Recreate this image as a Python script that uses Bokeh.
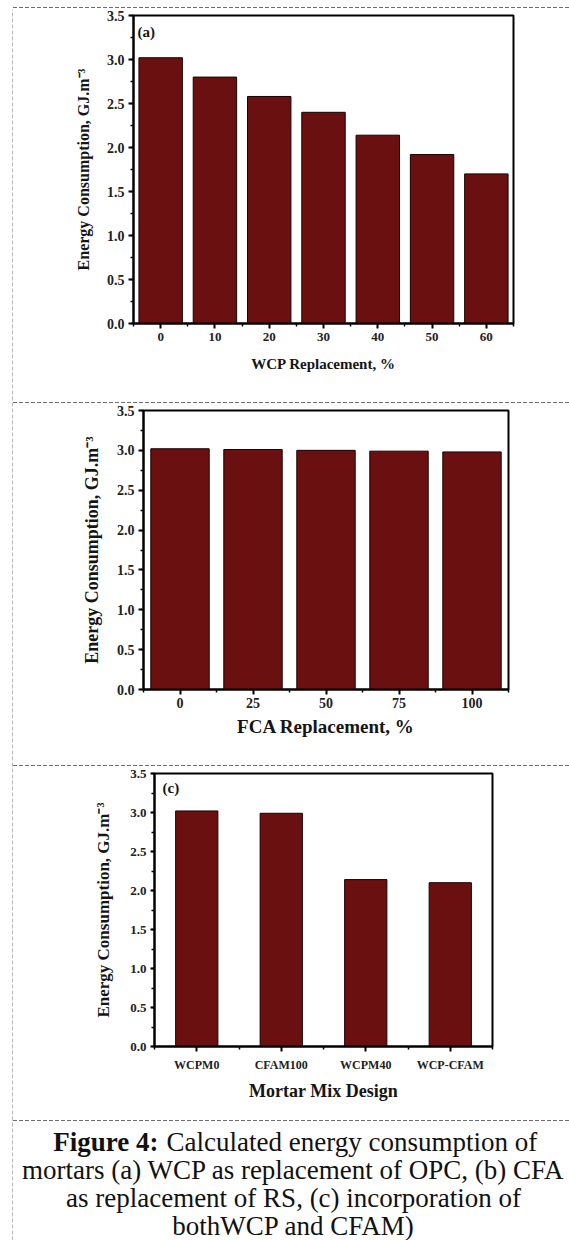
from bokeh.plotting import figure
from bokeh.layouts import row, column
from bokeh.models import (Range1d, FixedTicker, SingleIntervalTicker,
                          PrintfTickFormatter, Label, Spacer)
from bokeh.core.properties import value
from bokeh.embed import file_html
from bokeh.resources import INLINE

# ---------------- data ----------------
wcp_labels = ["0", "10", "20", "30", "40", "50", "60"]
wcp_energy = [3.02, 2.80, 2.58, 2.40, 2.14, 1.92, 1.70]

fca_labels = ["0", "25", "50", "75", "100"]
fca_energy = [3.02, 3.01, 3.00, 2.99, 2.98]

mix_labels = ["WCPM0", "CFAM100", "WCPM40", "WCP-CFAM"]
mix_energy = [3.02, 2.99, 2.14, 2.10]

y_label = "Energy Consumption, GJ.m\u207b\u00b3"
x_titles = ["WCP Replacement, %", "FCA Replacement, %", "Mortar Mix Design"]
panel_tags = ["(a)", "", "(c)"]

caption_bold = "Figure 4:"
caption_first = "Calculated energy consumption of"
caption_rest = ["mortars (a) WCP as replacement of OPC, (b) CFA",
                "as replacement of RS, (c) incorporation of",
                "bothWCP and CFAM)"]

# ---------------- style ----------------
SERIF = "Liberation Serif"
BAR = "#6b1010"
DASH = "#6e6e6e"
W = 556


def base(width, height, xr, yr):
    f = figure(width=width, height=height, output_backend="svg",
               toolbar_location=None, x_range=xr, y_range=yr,
               x_axis_type=None, y_axis_type=None, min_border=0,
               outline_line_color=None)
    f.frame_align = False
    return f


def panel(labels, vals, h, mbl, mbr, mbt, mbb, bar_w, xtitle, tag,
          ytick_fs, xtick_fs, ylab_fs, xlab_fs, ylab_so, xlab_so, xtick_so,
          tag_dx):
    n = len(labels)
    xs = list(range(n))
    p = figure(width=W, height=h, output_backend="svg", toolbar_location=None,
               x_range=Range1d(-0.5, n - 0.5), y_range=Range1d(0, 3.5),
               min_border_left=mbl, min_border_right=mbr,
               min_border_top=mbt, min_border_bottom=mbb)
    p.frame_align = False
    p.vbar(x=xs, top=vals, width=bar_w, fill_color=BAR,
           line_color="#1a0000", line_width=1)
    p.xgrid.grid_line_color = None
    p.ygrid.grid_line_color = None
    p.outline_line_color = "black"
    p.outline_line_width = 2
    p.outline_line_alpha = 1

    xa = p.xaxis[0]
    ya = p.yaxis[0]
    xa.ticker = FixedTicker(ticks=xs, minor_ticks=[i - 0.5 for i in range(n + 1)])
    xa.major_label_overrides = {i: lab for i, lab in enumerate(labels)}
    ya.ticker = SingleIntervalTicker(interval=0.5, num_minor_ticks=2)
    ya.formatter = PrintfTickFormatter(format="%.1f")
    for ax in (xa, ya):
        ax.axis_line_width = 2
        ax.axis_line_color = "black"
        ax.major_tick_line_color = "black"
        ax.major_tick_line_width = 2
        ax.major_tick_in = 0
        ax.major_tick_out = 5
        ax.minor_tick_line_color = "black"
        ax.minor_tick_line_width = 1.5
        ax.minor_tick_in = 0
        ax.minor_tick_out = 3
        ax.major_label_text_font = SERIF
        ax.major_label_text_font_style = "bold"
        ax.major_label_text_color = "#222222"
        ax.axis_label_text_font = SERIF
        ax.axis_label_text_font_style = "bold"
        ax.axis_label_text_color = "#151515"
    ya.major_label_text_font_size = ytick_fs
    xa.major_label_text_font_size = xtick_fs
    ya.major_label_standoff = 4
    xa.major_label_standoff = xtick_so
    ya.axis_label = y_label
    xa.axis_label = xtitle
    ya.axis_label_text_font_size = ylab_fs
    xa.axis_label_text_font_size = xlab_fs
    ya.axis_label_standoff = ylab_so
    xa.axis_label_standoff = xlab_so
    if tag:
        p.add_layout(Label(x=-0.5, y=3.31, x_offset=tag_dx, text=tag,
                           text_font=SERIF, text_font_style="bold",
                           text_font_size="15px", text_color="#151515",
                           text_baseline="middle"))
    return p


def hsep(h, row_px):
    # dashed separator line drawn as CSS background of a spacer
    return Spacer(width=W, height=h, styles={
        "background-image": ("repeating-linear-gradient(to right, "
                             f"{DASH} 0px, {DASH} 4px, "
                             "transparent 4px, transparent 6px)"),
        "background-size": "100% 1px",
        "background-repeat": "no-repeat",
        "background-position": f"0px {row_px}px",
    })


pa = panel(wcp_labels, wcp_energy, 392, 120, 56, 7, 77, 0.8, x_titles[0],
           panel_tags[0], "14px", "13px", "16px", "15px", 12, 12, 4, 4)
pb = panel(fca_labels, fca_energy, 361, 130, 61, 7, 75, 0.8, x_titles[1],
           panel_tags[1], "14px", "14px", "18px", "19px", 12, 5, 3, 4)
pc = panel(mix_labels, mix_energy, 352, 141, 77, 6, 73, 0.5, x_titles[2],
           panel_tags[2], "13px", "12px", "17px", "18px", 14, 6, 6, 8)
pc.yaxis[0].major_tick_out = 4

# caption
cap = base(W, 118, Range1d(0, W), Range1d(118, 0))
cap.text(x=[145], y=[19], text=[caption_bold], text_font=value(SERIF),
         text_font_style="bold", text_font_size="27px", text_align="right",
         text_baseline="alphabetic", text_color="#111111")
cap.text(x=[153], y=[19], text=[caption_first], text_font=value(SERIF),
         text_font_size="27px", text_align="left",
         text_baseline="alphabetic", text_color="#111111")
cap.text(x=[280, 280, 280], y=[47, 75, 103], text=caption_rest,
         text_font=value(SERIF), text_font_size="27px", text_align="center",
         text_baseline="alphabetic", text_color="#111111")

# left dashed border
strip = base(13, 1240, Range1d(0, 13), Range1d(0, 1240))
strip.segment(x0=[12.5], y0=[0], x1=[12.5], y1=[1231], line_color=DASH,
              line_width=1, line_dash="4 2")

layout = row(strip, column(hsep(8, 7), pa, hsep(3, 2), pb,
                           hsep(3, 1), pc, hsep(3, 1), cap))

open("out.html", "w").write(file_html(layout, INLINE))
